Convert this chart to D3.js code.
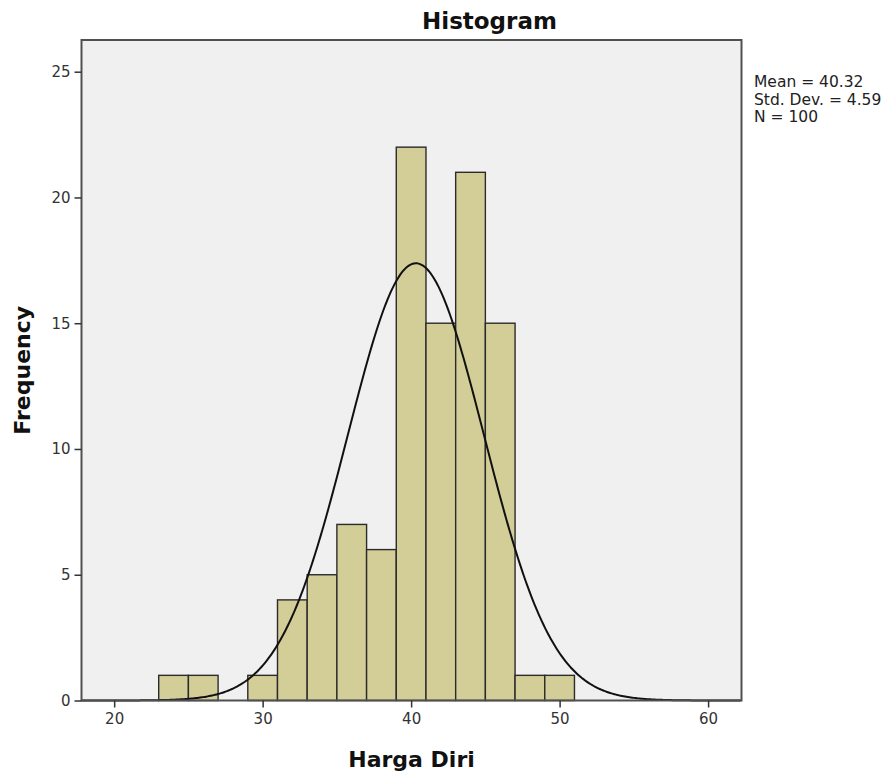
<!DOCTYPE html>
<html>
<head>
<meta charset="utf-8">
<script src="https://cdn.jsdelivr.net/npm/d3@7"></script>
<style>
  body { margin: 0; background: #fff; }
  text { font-family: "DejaVu Sans", sans-serif; }
  .tick text { font-size: 15px; fill: #333; }
  .axis-title { font-size: 22px; font-weight: bold; fill: #111; }
</style>
</head>
<body>
<div id="chart"></div>
<script>
// histogram data (bin start, counts), bin width 2
const binStarts = [23, 25, 29, 31, 33, 35, 37, 39, 41, 43, 45, 47, 49];
const counts    = [ 1,  1,  1,  4,  5,  7,  6, 22, 15, 21, 15,  1,  1];
const binWidth = 2;

const xTicks = [20, 30, 40, 50, 60];
const yTicks = [0, 5, 10, 15, 20, 25];

// summary stats shown in legend (also define the normal curve)
const mean = 40.32;
const stdDev = 4.59;
const n = 100;
const statLines = ["Mean = 40.32", "Std. Dev. = 4.59", "N = 100"];

const W = 895, H = 778;
const plotLeft = 81.5, plotRight = 741.5, plotTop = 40, plotBottom = 700.5;

const svg = d3.select('#chart').append('svg')
  .attr('width', W)
  .attr('height', H);

const x = d3.scaleLinear().domain([17.8, 62.25]).range([plotLeft, plotRight]);
const y = d3.scaleLinear().domain([0, 26.26]).range([plotBottom, plotTop]);

// plot background
svg.append('rect')
  .attr('x', plotLeft).attr('y', plotTop)
  .attr('width', plotRight - plotLeft).attr('height', plotBottom - plotTop)
  .attr('fill', '#f0f0f0');

// bars
svg.selectAll('.bar')
  .data(binStarts.map((s, i) => ({start: s, count: counts[i]})))
  .enter()
  .append('rect')
    .attr('class', 'bar')
    .attr('x', d => x(d.start))
    .attr('y', d => y(d.count))
    .attr('width', d => x(d.start + binWidth) - x(d.start))
    .attr('height', d => y(0) - y(d.count))
    .attr('fill', '#d3ce97')
    .attr('stroke', '#2b2b2b')
    .attr('stroke-width', 1.4);

// normal curve scaled to counts
const normal = v => n * binWidth * Math.exp(-0.5 * Math.pow((v - mean) / stdDev, 2)) / (stdDev * Math.sqrt(2 * Math.PI));
const curveX = d3.range(x.domain()[0], x.domain()[1], 0.1);
svg.append('path')
  .datum(curveX)
  .attr('fill', 'none')
  .attr('stroke', '#111')
  .attr('stroke-width', 2)
  .attr('d', d3.line().x(d => x(d)).y(d => y(normal(d))));

// frame
svg.append('rect')
  .attr('x', plotLeft).attr('y', plotTop)
  .attr('width', plotRight - plotLeft).attr('height', plotBottom - plotTop)
  .attr('fill', 'none')
  .attr('stroke', '#505050')
  .attr('stroke-width', 2);

// axes
const xAxis = svg.append('g')
  .attr('transform', `translate(0,${plotBottom})`)
  .call(d3.axisBottom(x).tickValues(xTicks).tickSize(7).tickPadding(6));
const yAxis = svg.append('g')
  .attr('transform', `translate(${plotLeft},0)`)
  .call(d3.axisLeft(y).tickValues(yTicks).tickSize(7).tickPadding(4));
[xAxis, yAxis].forEach(g => {
  g.select('.domain').remove();
  g.selectAll('.tick line').attr('stroke', '#333').attr('stroke-width', 1.5);
});

// titles
svg.append('text')
  .attr('x', 422).attr('y', 29)
  .attr('font-size', 23).attr('font-weight', 'bold').attr('fill', '#111')
  .text('Histogram');

svg.append('text')
  .attr('class', 'axis-title')
  .attr('x', (plotLeft + plotRight) / 2).attr('y', 767)
  .attr('text-anchor', 'middle')
  .text('Harga Diri');

svg.append('text')
  .attr('class', 'axis-title')
  .attr('transform', `translate(30,${(plotTop + plotBottom) / 2}) rotate(-90)`)
  .attr('text-anchor', 'middle')
  .text('Frequency');

// stats legend
svg.selectAll('.stat')
  .data(statLines)
  .enter()
  .append('text')
    .attr('class', 'stat')
    .attr('x', 754)
    .attr('y', (d, i) => 87 + i * 17.5)
    .attr('font-size', 15.5)
    .attr('fill', '#222')
    .text(d => d);
</script>
</body>
</html>
